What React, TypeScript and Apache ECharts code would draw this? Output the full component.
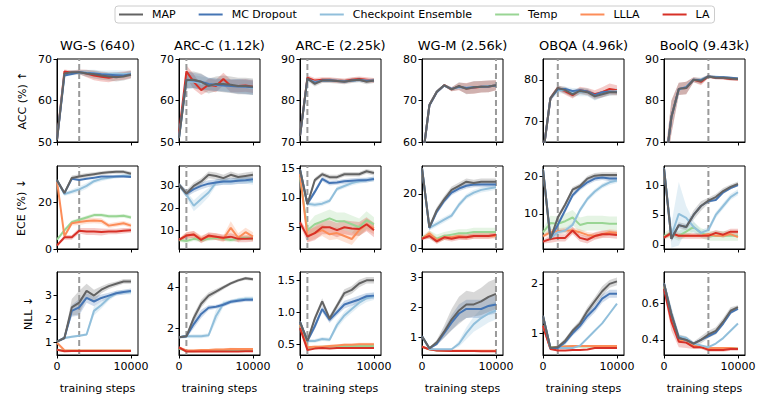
import React, { useEffect, useRef } from 'react';
import * as echarts from 'echarts';

// ---------------- data ----------------
const STEPS = [0, 1000, 2000, 3000, 4000, 5000, 6000, 7000, 8000, 9000, 10000];
const DATASETS = ['WG-S (640)', 'ARC-C (1.12k)', 'ARC-E (2.25k)', 'WG-M (2.56k)', 'OBQA (4.96k)', 'BoolQ (9.43k)'];
const METRIC_LABELS = ['ACC (%) ↑', 'ECE (%) ↓', 'NLL ↓'];
const METHODS = ['MAP', 'MC Dropout', 'Checkpoint Ensemble', 'Temp', 'LLLA', 'LA'];
const METHOD_KEYS = ['MAP', 'MCD', 'CE', 'TEMP', 'LLLA', 'LA'];
const COLORS = ['#636363', '#4575b4', '#91bfdb', '#99d594', '#fc8d59', '#d73027'];
const BEST_STEP = [3000, 1000, 1000, 10000, 2000, 6000];
const X_TICKS = [0, 10000];
const X_MAX = 10950;

const ACC_RANGE = [[50, 70], [50, 70], [70, 90], [60, 80], [65, 85], [70, 90]];
const ECE_RANGE = [[0, 35.5], [1.4, 39], [1.3, 15.4], [-0.3, 30.3], [0.5, 22.9], [-0.7, 13.2]];
const NLL_RANGE = [[0.48, 4.0], [0.68, 4.76], [0.33, 1.63], [0.43, 3.17], [0.56, 2.24], [0.317, 0.773]];
const ACC_TICKS = [[50, 60, 70], [50, 60, 70], [70, 80, 90], [60, 70, 80], [70, 80], [70, 80, 90]];
const ECE_TICKS = [[0, 20], [10, 20, 30], [5, 10, 15], [0, 20], [10, 20], [0, 5, 10]];
const NLL_TICKS = [[1, 2, 3], [2, 4], [0.5, 1.0, 1.5], [1, 2, 3], [1, 2], [0.4, 0.6]];

// ACC
const ACC_WGS = {
  MAP: [50.5, 66.5, 66.8, 66.8, 66.5, 66.3, 66.0, 65.8, 65.6, 65.8, 66.2],
  MCD: [50.5, 66.0, 66.4, 66.8, 66.6, 66.5, 66.3, 66.2, 66.1, 66.0, 66.3],
  CE: [50.5, 66.3, 66.6, 66.8, 66.7, 66.6, 66.4, 66.4, 66.5, 66.4, 66.5],
  LA: [50.5, 67.0, 66.7, 66.9, 66.5, 66.0, 65.7, 65.5, 65.8, 66.0, 66.3],
};
const ACC_WGS_SD = {
  MAP: [0.3, 0.5, 0.5, 0.5, 0.8, 1.0, 1.0, 1.0, 1.0, 1.0, 0.9],
  CE: [0.3, 0.6, 0.6, 0.6, 0.7, 0.8, 0.8, 0.8, 0.8, 0.8, 0.8],
  LA: [0.3, 0.5, 0.5, 0.6, 0.9, 1.1, 1.1, 1.1, 1.0, 1.0, 0.9],
};
const ACC_ARCC = {
  MAP: [51, 64.9, 65.0, 64.5, 63.5, 64.0, 64.0, 63.8, 63.5, 63.5, 63.3],
  MCD: [51, 65.0, 64.8, 64.5, 64.0, 63.8, 63.6, 63.5, 63.4, 63.3, 63.2],
  CE: [51, 64.5, 64.5, 64.2, 64.0, 63.8, 63.8, 63.5, 63.5, 63.3, 63.0],
  LA: [52, 67.0, 64.5, 62.5, 63.8, 63.5, 65.2, 63.5, 63.5, 63.6, 63.3],
};
const ACC_ARCC_SD = {
  MAP: [0.5, 2.0, 2.0, 2.0, 1.8, 1.8, 2.0, 2.0, 2.0, 2.0, 2.0],
  MCD: [0.5, 2.0, 1.8, 1.8, 1.5, 1.5, 1.5, 1.6, 1.8, 1.8, 1.8],
  CE: [0.5, 1.8, 1.6, 1.6, 1.5, 1.5, 1.5, 1.5, 1.6, 1.6, 1.6],
  LA: [0.5, 1.5, 1.8, 1.2, 1.5, 1.5, 1.5, 1.5, 1.5, 1.5, 1.5],
};
const ACC_ARCE = {
  MAP: [71.5, 85.3, 84.0, 84.8, 84.8, 84.7, 84.5, 84.8, 85.0, 84.5, 84.8],
  MCD: [71.5, 85.2, 84.3, 84.8, 84.9, 84.7, 84.6, 84.8, 85.0, 84.7, 84.8],
  CE: [71.5, 85.0, 84.5, 84.7, 84.8, 84.8, 84.6, 84.7, 84.9, 84.8, 84.8],
  LA: [71.5, 85.5, 84.8, 85.0, 85.0, 84.8, 84.7, 85.0, 85.2, 85.0, 84.8],
};
const ACC_ARCE_SD = {
  MAP: [0.5, 0.6, 0.6, 0.6, 0.6, 0.6, 0.6, 0.6, 0.6, 0.6, 0.6],
  LA: [0.5, 0.6, 0.6, 0.6, 0.6, 0.6, 0.6, 0.6, 0.6, 0.6, 0.6],
};
const ACC_WGM = {
  MAP: [55, 68.9, 72.1, 73.7, 72.7, 73.5, 72.8, 73.2, 73.3, 73.4, 73.7],
  MCD: [55, 68.8, 72.0, 73.6, 72.8, 73.3, 73.0, 73.2, 73.3, 73.4, 73.6],
  CE: [55, 68.9, 72.2, 73.6, 72.8, 73.2, 73.1, 73.2, 73.3, 73.5, 73.6],
  LA: [55, 68.9, 72.1, 73.7, 72.7, 73.4, 72.9, 73.1, 73.3, 73.4, 73.7],
};
const ACC_WGM_SD = {
  MAP: [0.3, 0.5, 0.4, 0.3, 0.5, 0.9, 1.3, 1.5, 1.4, 1.4, 1.2],
  LA: [0.3, 0.5, 0.4, 0.3, 0.5, 0.9, 1.3, 1.5, 1.4, 1.4, 1.2],
};
const ACC_OBQA = {
  MAP: [62, 75.5, 78.0, 77.5, 76.5, 77.3, 77.0, 76.0, 76.5, 77.0, 77.0],
  MCD: [62, 75.5, 77.7, 77.8, 77.3, 77.5, 77.2, 76.3, 77.0, 77.2, 77.0],
  CE: [62, 75.5, 77.5, 77.5, 77.0, 77.0, 77.0, 76.0, 76.5, 77.0, 77.3],
  LA: [62, 75.5, 78.0, 77.2, 76.3, 77.5, 77.2, 76.5, 77.0, 77.8, 77.5],
};
const ACC_OBQA_SD = {
  MAP: [0.5, 0.6, 0.6, 0.8, 0.8, 0.8, 0.8, 0.8, 0.8, 0.8, 0.8],
  CE: [0.5, 0.6, 0.8, 0.8, 1.0, 1.0, 1.0, 1.0, 0.8, 0.8, 0.8],
  LA: [0.5, 0.6, 0.6, 0.8, 0.8, 0.8, 0.8, 1.0, 1.2, 1.3, 1.2],
};
const ACC_BOOLQ = {
  MAP: [62, 76.0, 82.8, 83.0, 85.0, 84.7, 85.8, 85.5, 85.5, 85.3, 85.2],
  MCD: [62, 76.0, 82.8, 83.2, 85.0, 84.9, 85.8, 85.6, 85.6, 85.5, 85.3],
  CE: [62, 76.0, 82.6, 83.2, 85.0, 85.0, 85.8, 85.7, 85.6, 85.4, 85.3],
  LA: [62, 76.0, 82.8, 83.0, 85.0, 84.5, 85.8, 85.5, 85.4, 85.2, 85.1],
};
const ACC_BOOLQ_SD = {
  MAP: [2.0, 4.0, 1.5, 1.5, 0.6, 0.8, 0.4, 0.4, 0.4, 0.4, 0.4],
  LA: [2.0, 4.0, 1.5, 1.5, 0.6, 0.8, 0.4, 0.4, 0.4, 0.4, 0.4],
};

// ECE
const ECE_WGS = {
  MAP: [29.4, 23.9, 30.4, 31.0, 31.5, 32.0, 32.5, 32.8, 33.0, 33.0, 32.2],
  MCD: [29.4, 23.9, 30.0, 29.5, 30.0, 30.5, 31.0, 31.0, 31.0, 31.0, 30.8],
  CE: [29.4, 23.5, 24.5, 25.5, 27.0, 29.0, 30.0, 30.5, 31.0, 31.3, 31.3],
  TEMP: [4.0, 8.0, 11.5, 12.5, 13.5, 14.5, 14.5, 14.0, 14.0, 14.2, 13.5],
  LLLA: [29.0, 5.5, 11.0, 11.5, 12.0, 12.2, 12.0, 10.0, 10.5, 11.0, 10.0],
  LA: [1.5, 5.0, 5.0, 7.8, 7.5, 7.5, 7.3, 7.5, 7.5, 7.8, 8.0],
};
const ECE_WGS_SD = {
  MAP: [0.5, 0.8, 1.0, 1.0, 1.0, 0.8, 0.8, 0.8, 0.8, 0.8, 0.8],
  CE: [0.5, 0.8, 1.0, 1.2, 1.2, 1.0, 1.0, 0.8, 0.8, 0.8, 0.8],
  TEMP: [0.5, 0.8, 0.8, 0.8, 0.8, 0.8, 0.8, 0.8, 0.8, 0.8, 0.8],
  LLLA: [0.5, 1.0, 1.0, 1.2, 1.2, 1.2, 1.2, 1.0, 1.0, 1.0, 1.0],
  LA: [0.3, 1.0, 1.0, 1.2, 1.5, 1.5, 1.5, 1.2, 1.2, 1.2, 1.0],
};
const ECE_ARCC = {
  MAP: [30.5, 26.5, 30.0, 32.0, 35.0, 34.5, 33.5, 35.0, 34.0, 34.5, 35.0],
  MCD: [30.5, 26.5, 28.5, 30.0, 31.0, 31.5, 32.0, 32.0, 32.3, 32.5, 33.0],
  CE: [30.5, 26.0, 21.0, 24.0, 27.0, 31.5, 32.0, 32.0, 32.5, 32.5, 32.0],
  TEMP: [5.5, 5.0, 6.0, 5.5, 6.0, 6.5, 6.0, 5.5, 6.0, 6.5, 6.0],
  LLLA: [5.5, 7.5, 8.0, 6.0, 7.0, 7.0, 6.0, 11.0, 6.5, 9.0, 7.0],
  LA: [5.5, 7.5, 8.0, 5.5, 7.5, 7.0, 6.5, 7.0, 6.0, 6.0, 6.2],
};
const ECE_ARCC_SD = {
  MAP: [1.0, 1.5, 1.5, 1.5, 1.5, 1.5, 1.5, 1.5, 1.5, 1.5, 1.5],
  MCD: [1.0, 1.5, 1.5, 1.5, 1.5, 1.5, 1.5, 1.5, 1.5, 1.5, 1.5],
  CE: [1.0, 1.5, 2.5, 2.5, 2.0, 1.5, 1.5, 1.5, 1.5, 1.5, 1.5],
  TEMP: [0.8, 1.0, 1.0, 1.0, 1.0, 1.0, 1.0, 1.0, 1.0, 1.0, 1.0],
  LLLA: [0.5, 1.5, 1.5, 1.5, 1.5, 1.5, 1.5, 3.0, 2.0, 2.0, 2.0],
  LA: [0.5, 1.5, 1.5, 1.5, 1.5, 1.5, 1.5, 1.5, 1.5, 1.5, 1.5],
};
const ECE_ARCE = {
  MAP: [14.8, 8.9, 13.0, 14.0, 13.5, 13.5, 14.0, 14.0, 14.0, 14.5, 14.2],
  MCD: [14.8, 9.0, 11.0, 13.2, 12.5, 12.6, 12.8, 12.9, 13.0, 13.0, 13.2],
  CE: [14.8, 9.0, 8.8, 9.0, 9.5, 11.5, 12.0, 12.5, 12.8, 13.0, 13.2],
  TEMP: [13.5, 4.5, 5.5, 6.0, 6.5, 6.0, 6.0, 5.5, 5.0, 6.2, 5.5],
  LLLA: [14.0, 3.5, 4.0, 4.5, 3.8, 4.0, 3.5, 3.0, 4.5, 5.5, 4.8],
  LA: [5.8, 3.4, 4.0, 5.0, 5.0, 4.5, 5.0, 4.8, 4.7, 5.5, 4.5],
};
const ECE_ARCE_SD = {
  MAP: [0.3, 0.4, 0.4, 0.4, 0.4, 0.4, 0.4, 0.4, 0.4, 0.4, 0.4],
  MCD: [0.3, 0.4, 0.4, 0.4, 0.4, 0.4, 0.4, 0.4, 0.4, 0.4, 0.4],
  CE: [0.3, 0.4, 0.4, 0.4, 0.4, 0.4, 0.4, 0.4, 0.4, 0.4, 0.4],
  TEMP: [0.5, 1.0, 1.5, 1.5, 1.5, 1.5, 1.5, 1.5, 1.5, 1.5, 1.2],
  LLLA: [0.5, 1.0, 1.0, 1.0, 1.0, 1.0, 1.0, 1.0, 1.0, 1.0, 1.0],
  LA: [0.5, 1.0, 1.2, 1.2, 1.2, 1.2, 1.2, 1.2, 1.2, 1.2, 1.2],
};
const ECE_WGM = {
  MAP: [29.5, 7.7, 14.0, 18.0, 21.5, 23.0, 24.5, 24.0, 24.5, 24.5, 24.5],
  MCD: [29.5, 7.5, 13.5, 17.5, 20.5, 22.0, 23.0, 23.5, 23.5, 23.5, 23.5],
  CE: [29.5, 7.5, 9.0, 10.5, 12.0, 16.0, 19.0, 20.5, 21.5, 22.0, 22.5],
  TEMP: [4.0, 5.0, 3.5, 4.5, 5.0, 5.5, 5.5, 6.0, 6.0, 6.0, 6.0],
  LLLA: [3.5, 5.5, 3.0, 4.0, 4.0, 4.5, 4.0, 4.5, 4.5, 4.5, 4.5],
  LA: [3.5, 4.5, 2.5, 4.0, 3.5, 4.0, 4.0, 4.5, 4.5, 4.5, 5.0],
};
const ECE_WGM_SD = {
  MAP: [0.5, 1.0, 1.2, 1.2, 1.2, 1.2, 1.2, 1.2, 1.2, 1.2, 1.2],
  MCD: [0.5, 1.0, 1.0, 1.0, 1.0, 1.0, 1.0, 1.0, 1.0, 1.0, 1.0],
  CE: [0.5, 1.0, 1.0, 1.0, 1.0, 1.0, 1.0, 1.0, 1.0, 1.0, 1.0],
  TEMP: [0.5, 1.5, 1.5, 1.5, 1.5, 1.5, 1.5, 1.5, 1.5, 1.5, 1.5],
  LLLA: [0.5, 1.0, 1.0, 1.0, 1.0, 1.0, 1.0, 1.0, 1.0, 1.0, 1.0],
  LA: [0.5, 1.0, 1.0, 1.0, 1.0, 1.0, 1.0, 1.0, 1.0, 1.0, 1.0],
};
const ECE_OBQA = {
  MAP: [22.0, 3.2, 9.0, 12.5, 16.5, 17.5, 19.5, 20.3, 20.5, 20.5, 20.5],
  MCD: [22.0, 3.5, 7.0, 11.0, 15.0, 17.0, 18.5, 19.5, 19.8, 19.5, 19.5],
  CE: [22.0, 3.5, 5.0, 5.5, 7.0, 11.0, 14.0, 16.0, 17.5, 18.5, 19.0],
  TEMP: [5.0, 7.5, 7.3, 8.0, 9.0, 7.0, 7.5, 7.5, 7.5, 7.3, 7.3],
  LLLA: [4.0, 5.0, 5.3, 5.5, 5.5, 5.0, 4.3, 4.0, 4.5, 5.0, 4.8],
  LA: [2.5, 3.2, 3.5, 3.5, 5.5, 3.5, 3.0, 4.0, 4.5, 4.5, 4.3],
};
const ECE_OBQA_SD = {
  MAP: [0.5, 0.7, 0.7, 0.7, 0.7, 0.7, 0.7, 0.7, 0.7, 0.7, 0.7],
  MCD: [0.5, 0.7, 0.7, 0.7, 0.7, 0.7, 0.7, 0.7, 0.7, 0.7, 0.7],
  CE: [0.5, 0.7, 0.7, 0.7, 0.7, 0.7, 0.7, 0.7, 0.7, 0.7, 0.7],
  TEMP: [1.0, 2.0, 2.0, 2.0, 2.0, 2.0, 2.0, 2.0, 2.0, 2.0, 2.0],
  LLLA: [0.5, 0.8, 0.8, 0.8, 0.8, 0.8, 0.8, 0.8, 0.8, 0.8, 0.8],
  LA: [0.5, 1.0, 1.0, 1.0, 1.0, 1.0, 1.0, 1.0, 1.0, 1.0, 1.0],
};
const ECE_BOOLQ = {
  MAP: [12.8, 1.0, 3.3, 3.0, 5.0, 6.5, 7.4, 8.0, 9.0, 9.7, 10.2],
  MCD: [12.8, 1.0, 3.3, 3.0, 5.0, 6.5, 7.3, 7.5, 8.8, 9.5, 10.0],
  CE: [12.8, 1.5, 5.2, 4.5, 3.0, 2.0, 2.5, 5.0, 6.5, 8.0, 8.8],
  TEMP: [1.5, 2.0, 1.5, 2.2, 3.0, 2.0, 1.5, 1.5, 1.5, 1.5, 1.5],
  LLLA: [1.3, 1.8, 1.5, 1.5, 1.5, 1.5, 1.8, 1.5, 1.5, 1.8, 1.3],
  LA: [1.2, 2.0, 1.5, 1.5, 1.5, 1.5, 1.5, 2.0, 1.7, 2.2, 2.2],
};
const ECE_BOOLQ_SD = {
  MAP: [0.3, 0.5, 0.5, 0.5, 0.8, 0.8, 0.5, 0.5, 0.5, 0.4, 0.4],
  CE: [0.3, 2.0, 5.3, 2.0, 1.0, 0.5, 0.5, 0.5, 0.5, 0.5, 0.5],
  TEMP: [0.5, 0.8, 0.8, 0.8, 0.8, 0.8, 0.8, 0.8, 0.8, 0.8, 0.8],
  LA: [0.3, 0.5, 0.5, 0.5, 0.5, 0.5, 0.5, 0.5, 0.5, 0.5, 0.5],
};

// NLL
const NLL_WGS = {
  MAP: [1.05, 1.2, 2.5, 2.7, 3.2, 3.0, 3.25, 3.4, 3.5, 3.6, 3.6],
  MCD: [1.05, 1.2, 2.35, 2.5, 2.9, 2.75, 2.9, 3.0, 3.1, 3.15, 3.2],
  CE: [1.05, 1.2, 1.25, 1.3, 1.35, 2.35, 2.6, 2.9, 3.1, 3.15, 3.15],
  TEMP: [0.7, 0.66, 0.66, 0.66, 0.66, 0.66, 0.66, 0.66, 0.66, 0.66, 0.66],
  LLLA: [1.0, 0.68, 0.67, 0.67, 0.67, 0.67, 0.67, 0.67, 0.67, 0.67, 0.67],
  LA: [0.7, 0.64, 0.65, 0.65, 0.65, 0.65, 0.65, 0.65, 0.65, 0.65, 0.65],
};
const NLL_WGS_SD = {
  MAP: [0.02, 0.05, 0.35, 0.5, 0.3, 0.25, 0.15, 0.12, 0.1, 0.1, 0.1],
  MCD: [0.02, 0.05, 0.25, 0.35, 0.2, 0.2, 0.15, 0.12, 0.1, 0.1, 0.1],
  CE: [0.02, 0.05, 0.05, 0.05, 0.05, 0.2, 0.15, 0.12, 0.1, 0.1, 0.1],
};
const NLL_ARCC = {
  MAP: [1.55, 1.6, 2.5, 3.2, 3.6, 3.8, 4.0, 4.2, 4.35, 4.45, 4.4],
  MCD: [1.55, 1.6, 2.2, 2.7, 3.0, 3.05, 3.15, 3.3, 3.35, 3.4, 3.4],
  CE: [1.55, 1.6, 1.6, 1.6, 1.65, 2.6, 3.2, 3.3, 3.4, 3.45, 3.45],
  TEMP: [1.0, 0.87, 0.87, 0.88, 0.88, 0.88, 0.88, 0.9, 0.9, 0.9, 0.9],
  LLLA: [1.05, 0.9, 0.9, 0.92, 0.92, 0.95, 0.95, 0.98, 0.97, 0.97, 0.97],
  LA: [1.05, 0.85, 0.85, 0.85, 0.85, 0.85, 0.85, 0.85, 0.85, 0.87, 0.87],
};
const NLL_ARCC_SD = {
  MAP: [0.05, 0.08, 0.2, 0.2, 0.15, 0.12, 0.1, 0.08, 0.08, 0.08, 0.08],
  MCD: [0.05, 0.08, 0.2, 0.2, 0.12, 0.1, 0.1, 0.1, 0.1, 0.1, 0.1],
  CE: [0.05, 0.08, 0.1, 0.1, 0.1, 0.3, 0.15, 0.1, 0.1, 0.1, 0.1],
  LLLA: [0.03, 0.05, 0.05, 0.05, 0.05, 0.05, 0.05, 0.06, 0.05, 0.05, 0.05],
};
const NLL_ARCE = {
  MAP: [0.85, 0.55, 0.9, 1.17, 0.9, 1.1, 1.3, 1.35, 1.45, 1.5, 1.5],
  MCD: [0.85, 0.55, 0.78, 1.05, 0.88, 1.0, 1.12, 1.16, 1.2, 1.25, 1.26],
  CE: [0.85, 0.55, 0.55, 0.58, 0.57, 0.8, 0.95, 1.05, 1.15, 1.22, 1.25],
  TEMP: [0.8, 0.44, 0.45, 0.46, 0.46, 0.47, 0.47, 0.47, 0.47, 0.47, 0.47],
  LLLA: [0.8, 0.45, 0.46, 0.46, 0.47, 0.48, 0.49, 0.49, 0.5, 0.5, 0.5],
  LA: [0.75, 0.41, 0.43, 0.44, 0.43, 0.44, 0.44, 0.44, 0.44, 0.44, 0.44],
};
const NLL_ARCE_SD = {
  MAP: [0.02, 0.03, 0.05, 0.05, 0.05, 0.05, 0.06, 0.06, 0.06, 0.05, 0.05],
  MCD: [0.02, 0.03, 0.05, 0.05, 0.05, 0.05, 0.06, 0.06, 0.06, 0.05, 0.05],
  CE: [0.02, 0.03, 0.03, 0.03, 0.03, 0.06, 0.06, 0.06, 0.06, 0.06, 0.06],
  LLLA: [0.02, 0.02, 0.02, 0.02, 0.02, 0.02, 0.02, 0.02, 0.02, 0.02, 0.02],
};
const NLL_WGM = {
  MAP: [1.05, 0.65, 0.85, 1.2, 1.6, 1.9, 2.1, 2.1, 2.2, 2.35, 2.45],
  MCD: [1.05, 0.65, 0.8, 1.15, 1.5, 1.8, 1.95, 1.95, 1.95, 2.05, 2.1],
  CE: [1.05, 0.63, 0.62, 0.62, 0.62, 0.8, 1.15, 1.45, 1.65, 1.8, 1.9],
  TEMP: [0.7, 0.62, 0.58, 0.57, 0.56, 0.56, 0.56, 0.56, 0.56, 0.56, 0.56],
  LLLA: [0.7, 0.62, 0.59, 0.58, 0.57, 0.57, 0.57, 0.57, 0.57, 0.57, 0.57],
  LA: [0.7, 0.62, 0.58, 0.57, 0.56, 0.56, 0.56, 0.56, 0.55, 0.55, 0.55],
};
const NLL_WGM_SD = {
  MAP: [0.02, 0.02, 0.08, 0.2, 0.35, 0.45, 0.45, 0.4, 0.45, 0.5, 0.5],
  MCD: [0.02, 0.02, 0.06, 0.15, 0.25, 0.3, 0.3, 0.3, 0.3, 0.3, 0.3],
  CE: [0.02, 0.02, 0.02, 0.02, 0.02, 0.1, 0.2, 0.25, 0.3, 0.3, 0.3],
};
const NLL_OBQA = {
  MAP: [1.35, 0.7, 0.72, 0.85, 1.05, 1.2, 1.45, 1.65, 1.85, 2.0, 2.05],
  MCD: [1.35, 0.7, 0.7, 0.82, 1.0, 1.15, 1.35, 1.5, 1.7, 1.8, 1.8],
  CE: [1.35, 0.7, 0.7, 0.7, 0.7, 0.75, 0.9, 1.05, 1.2, 1.4, 1.6],
  TEMP: [1.15, 0.72, 0.72, 0.73, 0.73, 0.73, 0.73, 0.73, 0.73, 0.73, 0.73],
  LLLA: [1.15, 0.7, 0.72, 0.73, 0.74, 0.74, 0.74, 0.74, 0.74, 0.74, 0.74],
  LA: [1.15, 0.68, 0.65, 0.65, 0.66, 0.66, 0.67, 0.7, 0.7, 0.7, 0.7],
};
const NLL_OBQA_SD = {
  MAP: [0.02, 0.02, 0.03, 0.05, 0.05, 0.07, 0.08, 0.08, 0.1, 0.08, 0.08],
  MCD: [0.02, 0.02, 0.03, 0.05, 0.05, 0.07, 0.08, 0.08, 0.08, 0.08, 0.08],
  LLLA: [0.02, 0.02, 0.02, 0.02, 0.02, 0.02, 0.02, 0.02, 0.02, 0.02, 0.02],
};
const NLL_BOOLQ = {
  MAP: [0.71, 0.54, 0.41, 0.4, 0.38, 0.4, 0.43, 0.45, 0.5, 0.56, 0.58],
  MCD: [0.71, 0.54, 0.41, 0.4, 0.38, 0.4, 0.42, 0.44, 0.49, 0.55, 0.57],
  CE: [0.71, 0.55, 0.42, 0.41, 0.38, 0.37, 0.36, 0.38, 0.41, 0.45, 0.49],
  TEMP: [0.7, 0.52, 0.4, 0.4, 0.37, 0.36, 0.355, 0.355, 0.355, 0.355, 0.352],
  LLLA: [0.7, 0.52, 0.4, 0.4, 0.37, 0.36, 0.355, 0.355, 0.355, 0.355, 0.352],
  LA: [0.68, 0.5, 0.39, 0.385, 0.36, 0.36, 0.345, 0.345, 0.345, 0.35, 0.35],
};
const NLL_BOOLQ_SD = {
  MAP: [0.02, 0.04, 0.02, 0.02, 0.01, 0.02, 0.02, 0.02, 0.02, 0.02, 0.01],
  LA: [0.02, 0.05, 0.03, 0.03, 0.01, 0.01, 0.01, 0.01, 0.01, 0.01, 0.01],
};

const PANEL_DATA = [
  [ACC_WGS, ACC_ARCC, ACC_ARCE, ACC_WGM, ACC_OBQA, ACC_BOOLQ],
  [ECE_WGS, ECE_ARCC, ECE_ARCE, ECE_WGM, ECE_OBQA, ECE_BOOLQ],
  [NLL_WGS, NLL_ARCC, NLL_ARCE, NLL_WGM, NLL_OBQA, NLL_BOOLQ],
];
const PANEL_SD = [
  [ACC_WGS_SD, ACC_ARCC_SD, ACC_ARCE_SD, ACC_WGM_SD, ACC_OBQA_SD, ACC_BOOLQ_SD],
  [ECE_WGS_SD, ECE_ARCC_SD, ECE_ARCE_SD, ECE_WGM_SD, ECE_OBQA_SD, ECE_BOOLQ_SD],
  [NLL_WGS_SD, NLL_ARCC_SD, NLL_ARCE_SD, NLL_WGM_SD, NLL_OBQA_SD, NLL_BOOLQ_SD],
];
const RANGES = [ACC_RANGE, ECE_RANGE, NLL_RANGE];
const TICKS = [ACC_TICKS, ECE_TICKS, NLL_TICKS];

// ---------------- layout ----------------
const COL_LEFT = [57, 179, 300, 422, 543, 664];
const ROW_TOP = [59, 166, 272];
const PANEL_W = 81;
const PANEL_H = 83;
const YLABEL_X = [22, 21, 28];
const FONT = 'DejaVu Sans';
const DRAW_ORDER = [3, 4, 5, 2, 1, 0];

function buildOption() {
  const grid: any[] = [];
  const xAxis: any[] = [];
  const yAxis: any[] = [];
  const series: any[] = [];
  const graphic: any[] = [];
  let g = 0;
  for (let r = 0; r < 3; r++) {
    for (let c = 0; c < 6; c++) {
      grid.push({
        left: COL_LEFT[c], top: ROW_TOP[r], width: PANEL_W, height: PANEL_H,
        show: true, borderColor: '#000', borderWidth: 1, backgroundColor: 'transparent',
        containLabel: false,
      });
      xAxis.push({
        type: 'value', gridIndex: g, min: 0, max: X_MAX,
        axisLine: { show: true, onZero: false, lineStyle: { color: '#000', width: 1 } },
        axisTick: { show: true, length: 3.5, lineStyle: { color: '#000' }, customValues: X_TICKS },
        axisLabel: {
          show: r === 2, customValues: X_TICKS, margin: 6, color: '#000', fontSize: 11, fontFamily: FONT,
          formatter: (v: number) => String(v),
        },
        splitLine: { show: false },
      });
      const [ymin, ymax] = RANGES[r][c];
      const tks = TICKS[r][c];
      const decimals = tks.some((t) => t % 1 !== 0);
      yAxis.push({
        type: 'value', gridIndex: g, min: ymin, max: ymax,
        axisLine: { show: true, onZero: false, lineStyle: { color: '#000', width: 1 } },
        axisTick: { show: true, length: 3.5, lineStyle: { color: '#000' }, customValues: tks },
        axisLabel: {
          show: true, customValues: tks, margin: 5, color: '#000', fontSize: 11, fontFamily: FONT,
          formatter: (v: number) => (decimals ? v.toFixed(1) : String(v)),
        },
        splitLine: { show: false },
      });
      const data: any = PANEL_DATA[r][c];
      const sd: any = PANEL_SD[r][c];
      // shaded bands (mean ± sd) as polygons through the axis scales
      DRAW_ORDER.forEach((m) => {
        const key = METHOD_KEYS[m];
        if (!data[key] || !sd[key]) return;
        const mean: number[] = data[key];
        const dev: number[] = sd[key];
        const color = COLORS[m];
        series.push({
          type: 'custom', name: `${METHODS[m]} band`, xAxisIndex: g, yAxisIndex: g,
          data: [[STEPS[0], mean[0]]], silent: true, clip: true, z: 1,
          renderItem: (params: any, api: any) => {
            const upper = STEPS.map((s, i) => api.coord([s, mean[i] + dev[i]]));
            const lower = STEPS.map((s, i) => api.coord([s, mean[i] - dev[i]])).reverse();
            const cs = params.coordSys;
            return {
              type: 'group',
              children: [{
                type: 'polygon',
                shape: { points: upper.concat(lower) },
                style: { fill: color, opacity: 0.25 },
              }],
              clipPath: { type: 'rect', shape: { x: cs.x, y: cs.y, width: cs.width, height: cs.height } },
            };
          },
        });
      });
      // best-step dashed line
      series.push({
        type: 'line', name: 'best', xAxisIndex: g, yAxisIndex: g,
        data: [[BEST_STEP[c], ymin], [BEST_STEP[c], ymax]],
        showSymbol: false, symbol: 'none', silent: true, z: 2,
        lineStyle: { color: '#9a9a9a', width: 2, type: [6, 3] },
      });
      // mean lines
      DRAW_ORDER.forEach((m) => {
        const key = METHOD_KEYS[m];
        if (!data[key]) return;
        series.push({
          type: 'line', name: METHODS[m], xAxisIndex: g, yAxisIndex: g,
          data: STEPS.map((s, i) => [s, data[key][i]]),
          showSymbol: false, symbol: 'none', silent: true, clip: true, z: 3,
          color: COLORS[m],
          itemStyle: { color: COLORS[m] },
          lineStyle: { color: COLORS[m], width: 2 },
        });
      });
      g++;
    }
  }
  for (let c = 0; c < 6; c++) {
    graphic.push({
      type: 'text', x: COL_LEFT[c] + PANEL_W / 2, y: 45,
      style: { text: DATASETS[c], fontSize: 13, fontFamily: FONT, fill: '#000', align: 'center', verticalAlign: 'middle' },
    });
    graphic.push({
      type: 'text', x: COL_LEFT[c] + PANEL_W / 2, y: 388,
      style: { text: 'training steps', fontSize: 11, fontFamily: FONT, fill: '#000', align: 'center', verticalAlign: 'middle' },
    });
  }
  for (let r = 0; r < 3; r++) {
    graphic.push({
      type: 'text', x: YLABEL_X[r], y: ROW_TOP[r] + PANEL_H / 2, rotation: Math.PI / 2,
      style: { text: METRIC_LABELS[r], fontSize: 11, fontFamily: FONT, fill: '#000', align: 'center', verticalAlign: 'middle' },
    });
  }
  return {
    animation: false,
    textStyle: { fontFamily: FONT },
    legend: {
      data: METHODS, left: 115, top: 6, orient: 'horizontal',
      icon: 'rect', itemWidth: 24, itemHeight: 2, itemGap: 23,
      padding: [3, 5, 3, 4], borderColor: '#cccccc', borderWidth: 1, borderRadius: 3,
      textStyle: { fontSize: 11, color: '#000', fontFamily: FONT, padding: [0, 0, 0, 4] },
      selectedMode: false,
    },
    grid, xAxis, yAxis, series, graphic,
  };
}

export default function App() {
  const ref = useRef<HTMLDivElement>(null);
  useEffect(() => {
    if (!ref.current) return;
    const chart = echarts.init(ref.current, undefined, { renderer: 'svg' });
    chart.setOption(buildOption() as any);
    return () => chart.dispose();
  }, []);
  return <div ref={ref} style={{ position: 'absolute', left: 0, top: 0, width: 761, height: 395, background: '#fff' }} />;
}
